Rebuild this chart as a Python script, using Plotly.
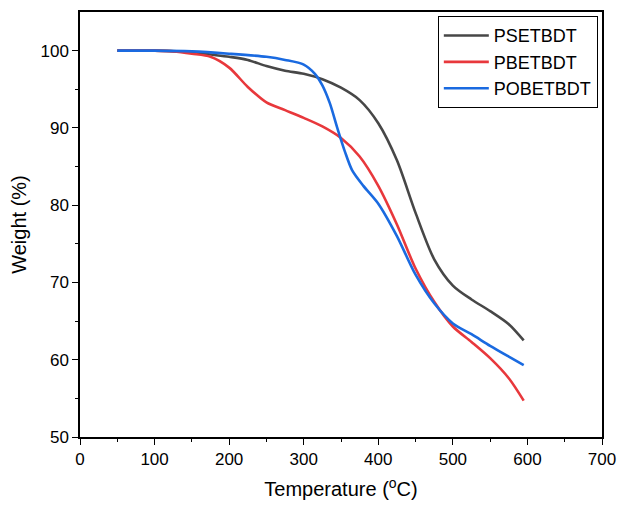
import plotly.graph_objects as go

# Data
t_ps = [50, 100, 150, 175, 200, 225, 250, 275, 300, 325, 350, 375, 400, 425, 450, 475, 500, 525, 550, 575, 595]
w_ps = [100, 100, 99.8, 99.5, 99.2, 98.8, 98.0, 97.4, 97.0, 96.3, 95.2, 93.6, 90.6, 85.8, 79.0, 73.0, 69.6, 67.8, 66.3, 64.6, 62.5]

t_pb = [50, 100, 125, 150, 175, 200, 225, 250, 275, 300, 325, 350, 375, 400, 425, 450, 475, 500, 525, 550, 575, 595]
w_pb = [100, 100, 99.9, 99.6, 99.2, 97.8, 95.3, 93.3, 92.3, 91.3, 90.2, 88.7, 86.3, 82.5, 77.5, 71.8, 67.5, 64.3, 62.3, 60.2, 57.6, 54.7]

t_pob = [50, 100, 150, 200, 250, 275, 300, 315, 325, 335, 345, 355, 365, 380, 400, 425, 450, 475, 500, 525, 550, 575, 595]
w_pob = [100, 100, 99.9, 99.6, 99.2, 98.8, 98.2, 97.0, 95.5, 93.2, 90.0, 87.0, 84.5, 82.5, 80.2, 76.0, 71.0, 67.3, 64.7, 63.3, 61.8, 60.4, 59.3]

names = ["PSETBDT", "PBETBDT", "POBETBDT"]
colors = ["#474747", "#e8383c", "#1a6ae0"]

FONT = "Arial, Liberation Sans, sans-serif"

fig = go.Figure()
for t, w, n, c in zip([t_ps, t_pb, t_pob], [w_ps, w_pb, w_pob], names, colors):
    fig.add_trace(go.Scatter(x=t, y=w, name=n, mode="lines",
                             line=dict(color=c, width=2.6, shape="spline", smoothing=0.8)))

axis_common = dict(showline=True, linecolor="black", linewidth=1.5, mirror=True,
                   ticks="outside", ticklen=6, tickwidth=1.2, tickcolor="black",
                   showgrid=False, zeroline=False, automargin=False,
                   tickfont=dict(family=FONT, size=17, color="black"))

fig.update_xaxes(range=[0, 700], dtick=100,
                 minor=dict(dtick=50, ticks="outside", ticklen=3, tickwidth=1, tickcolor="black"),
                 title=dict(text="Temperature (<sup>o</sup>C)", font=dict(family=FONT, size=20, color="black"), standoff=14),
                 **axis_common)
fig.update_yaxes(range=[50, 105], tickvals=[50, 60, 70, 80, 90, 100],
                 minor=dict(tickvals=[55, 65, 75, 85, 95], ticks="outside", ticklen=3, tickwidth=1, tickcolor="black"),
                 title=dict(text="Weight (%)", font=dict(family=FONT, size=20, color="black"), standoff=8),
                 **axis_common)

fig.update_layout(
    width=617, height=506,
    margin=dict(l=80, r=15, t=12, b=69),
    plot_bgcolor="white", paper_bgcolor="white",
    showlegend=True,
    legend=dict(x=0.992, y=0.99, xanchor="right", yanchor="top",
                bordercolor="black", borderwidth=1, bgcolor="white",
                font=dict(family=FONT, size=18, color="black"),
                tracegroupgap=0, itemwidth=45),
)

fig.write_html("out.html")
